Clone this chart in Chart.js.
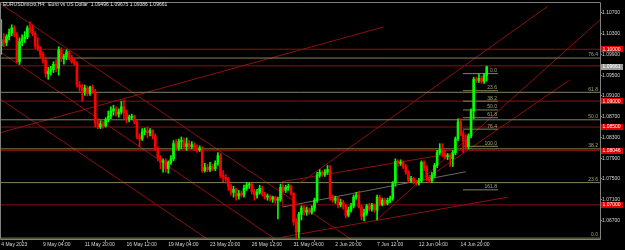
<!DOCTYPE html>
<html><head><meta charset="utf-8">
<script src="https://cdn.jsdelivr.net/npm/chart.js@4.4.1/dist/chart.umd.min.js"></script>
<style>html,body{margin:0;padding:0;background:#000;overflow:hidden}canvas{display:block}</style>
</head><body>
<canvas id="c" width="625" height="250"></canvas>
<script>
const title = 'EURUSDmicro,H4:  Euro vs US Dollar  1.09496 1.09675 1.09386 1.09661';
const tickBars = [0,16,32,48,64,80,96,112,128,144,160,176];
const timeLabels = ['4 May 2023','9 May 04:00','11 May 20:00','16 May 12:00','19 May 04:00','23 May 20:00','26 May 12:00','31 May 04:00','2 Jun 20:00','7 Jun 12:00','12 Jun 04:00','14 Jun 20:00'];
const priceTicks = [1.067,1.071,1.075,1.079,1.083,1.087,1.091,1.095,1.099,1.103,1.107];

const opens = [1.1007,1.1018,1.1013,1.1024,1.1032,1.1041,1.1028,1.0976,1.1015,1.1020,
1.1024,1.1041,1.1038,1.1030,1.1007,1.1001,1.0990,1.0978,1.0953,1.0957,
1.0961,1.0971,1.0963,1.0999,1.0982,1.0986,1.0995,1.0984,1.0976,1.0973,
1.0931,1.0927,1.0919,1.0925,1.0915,1.0927,1.0919,1.0858,1.0850,1.0856,
1.0852,1.0864,1.0871,1.0881,1.0885,1.0875,1.0879,1.0889,1.0877,1.0864,
1.0869,1.0871,1.0860,1.0831,1.0827,1.0841,1.0843,1.0839,1.0843,1.0833,
1.0808,1.0791,1.0782,1.0785,1.0770,1.0782,1.0789,1.0818,1.0810,1.0822,
1.0824,1.0812,1.0818,1.0812,1.0816,1.0808,1.0806,1.0810,1.0766,1.0772,
1.0768,1.0774,1.0770,1.0780,1.0795,1.0757,1.0753,1.0749,1.0736,1.0724,
1.0730,1.0717,1.0722,1.0719,1.0732,1.0738,1.0740,1.0726,1.0719,1.0724,
1.0732,1.0721,1.0715,1.0717,1.0711,1.0715,1.0709,1.0711,1.0734,1.0728,
1.0734,1.0736,1.0722,1.0667,1.0648,1.0682,1.0694,1.0686,1.0690,1.0686,
1.0694,1.0709,1.0757,1.0763,1.0759,1.0763,1.0768,1.0713,1.0709,1.0713,
1.0700,1.0705,1.0698,1.0680,1.0690,1.0698,1.0715,1.0719,1.0696,1.0678,
1.0684,1.0698,1.0692,1.0700,1.0690,1.0715,1.0701,1.0709,1.0703,1.0709,
1.0713,1.0742,1.0784,1.0780,1.0782,1.0774,1.0763,1.0747,1.0751,1.0745,
1.0742,1.0747,1.0782,1.0772,1.0753,1.0747,1.0757,1.0776,1.0801,1.0806,
1.0799,1.0793,1.0795,1.0789,1.0801,1.0827,1.0860,1.0837,1.0824,1.0812,
1.0833,1.0881,1.0942,1.0940,1.0944,1.0938,1.09496];
const highs = [1.1057,1.1030,1.1028,1.1039,1.1047,1.1045,1.1032,1.1022,1.1028,1.1034,
1.1045,1.1053,1.1047,1.1034,1.1022,1.1005,1.0995,1.0984,1.0965,1.0967,
1.0976,1.0980,1.1005,1.1003,1.0990,1.0999,1.0997,1.0988,1.0982,1.0976,
1.0938,1.0932,1.0931,1.0929,1.0929,1.0931,1.0923,1.0866,1.0862,1.0860,
1.0868,1.0881,1.0889,1.0892,1.0889,1.0885,1.0900,1.0902,1.0883,1.0873,
1.0875,1.0873,1.0864,1.0837,1.0847,1.0848,1.0850,1.0847,1.0845,1.0837,
1.0812,1.0795,1.0789,1.0789,1.0785,1.0795,1.0824,1.0826,1.0827,1.0831,
1.0829,1.0829,1.0824,1.0822,1.0820,1.0816,1.0814,1.0812,1.0780,1.0778,
1.0782,1.0778,1.0785,1.0801,1.0799,1.0766,1.0759,1.0753,1.0740,1.0736,
1.0732,1.0728,1.0726,1.0738,1.0743,1.0743,1.0742,1.0730,1.0730,1.0738,
1.0736,1.0724,1.0721,1.0719,1.0717,1.0717,1.0715,1.0740,1.0738,1.0738,
1.0740,1.0738,1.0724,1.0673,1.0686,1.0698,1.0698,1.0696,1.0694,1.0698,
1.0713,1.0763,1.0768,1.0766,1.0768,1.0776,1.0776,1.0719,1.0717,1.0715,
1.0711,1.0709,1.0701,1.0696,1.0703,1.0719,1.0724,1.0726,1.0700,1.0692,
1.0701,1.0703,1.0703,1.0701,1.0719,1.0719,1.0713,1.0713,1.0713,1.0717,
1.0745,1.0789,1.0787,1.0787,1.0785,1.0778,1.0766,1.0755,1.0753,1.0747,
1.0751,1.0785,1.0785,1.0776,1.0757,1.0763,1.0780,1.0805,1.0818,1.0818,
1.0805,1.0799,1.0797,1.0805,1.0831,1.0866,1.0866,1.0843,1.0835,1.0837,
1.0885,1.0946,1.0946,1.0952,1.0948,1.0953,1.09675];
const lows = [1.0990,1.1005,1.1007,1.1018,1.1026,1.1024,1.0973,1.0971,1.1007,1.1013,
1.1020,1.1032,1.1026,1.1001,1.0997,1.0984,1.0973,1.0946,1.0942,1.0950,
1.0955,1.0957,1.0950,1.0976,1.0971,1.0980,1.0980,1.0973,1.0969,1.0927,
1.0919,1.0900,1.0911,1.0910,1.0911,1.0915,1.0850,1.0847,1.0847,1.0848,
1.0850,1.0860,1.0866,1.0873,1.0871,1.0869,1.0875,1.0866,1.0858,1.0860,
1.0864,1.0856,1.0827,1.0812,1.0824,1.0835,1.0829,1.0833,1.0827,1.0805,
1.0785,1.0770,1.0763,1.0763,1.0761,1.0778,1.0785,1.0806,1.0805,1.0808,
1.0808,1.0805,1.0808,1.0808,1.0805,1.0801,1.0803,1.0763,1.0763,1.0764,
1.0764,1.0766,1.0766,1.0776,1.0753,1.0745,1.0742,1.0728,1.0719,1.0715,
1.0709,1.0711,1.0715,1.0715,1.0728,1.0732,1.0721,1.0709,1.0713,1.0721,
1.0717,1.0711,1.0709,1.0707,1.0705,1.0703,1.0673,1.0707,1.0724,1.0724,
1.0728,1.0719,1.0661,1.0636,1.0636,1.0671,1.0680,1.0680,1.0682,1.0682,
1.0688,1.0705,1.0753,1.0755,1.0755,1.0759,1.0709,1.0705,1.0703,1.0694,
1.0696,1.0692,1.0675,1.0677,1.0686,1.0694,1.0711,1.0694,1.0671,1.0669,
1.0680,1.0688,1.0688,1.0686,1.0671,1.0698,1.0698,1.0700,1.0700,1.0705,
1.0709,1.0736,1.0774,1.0776,1.0770,1.0759,1.0743,1.0743,1.0740,1.0738,
1.0738,1.0743,1.0766,1.0747,1.0743,1.0743,1.0753,1.0772,1.0797,1.0793,
1.0789,1.0787,1.0774,1.0774,1.0797,1.0824,1.0833,1.0801,1.0808,1.0808,
1.0829,1.0866,1.0936,1.0936,1.0934,1.0934,1.09386];
const closes = [1.1018,1.1013,1.1024,1.1032,1.1041,1.1028,1.0976,1.1015,1.1020,1.1024,
1.1041,1.1038,1.1030,1.1007,1.1001,1.0990,1.0978,1.0953,1.0957,1.0961,
1.0971,1.0963,1.0999,1.0982,1.0986,1.0995,1.0984,1.0976,1.0973,1.0931,
1.0927,1.0919,1.0925,1.0915,1.0927,1.0919,1.0858,1.0850,1.0856,1.0852,
1.0864,1.0871,1.0881,1.0885,1.0875,1.0879,1.0889,1.0877,1.0864,1.0869,
1.0871,1.0860,1.0831,1.0827,1.0841,1.0843,1.0839,1.0843,1.0833,1.0808,
1.0791,1.0782,1.0785,1.0770,1.0782,1.0789,1.0818,1.0810,1.0822,1.0824,
1.0812,1.0818,1.0812,1.0816,1.0808,1.0806,1.0810,1.0766,1.0772,1.0768,
1.0774,1.0770,1.0780,1.0795,1.0757,1.0753,1.0749,1.0736,1.0724,1.0730,
1.0717,1.0722,1.0719,1.0732,1.0738,1.0740,1.0726,1.0719,1.0724,1.0732,
1.0721,1.0715,1.0717,1.0711,1.0715,1.0709,1.0711,1.0734,1.0728,1.0734,
1.0736,1.0722,1.0667,1.0648,1.0682,1.0694,1.0686,1.0690,1.0686,1.0694,
1.0709,1.0757,1.0763,1.0759,1.0763,1.0768,1.0713,1.0709,1.0713,1.0700,
1.0705,1.0698,1.0680,1.0690,1.0698,1.0715,1.0719,1.0696,1.0678,1.0684,
1.0698,1.0692,1.0700,1.0690,1.0715,1.0701,1.0709,1.0703,1.0709,1.0713,
1.0742,1.0784,1.0780,1.0782,1.0774,1.0763,1.0747,1.0751,1.0745,1.0742,
1.0747,1.0782,1.0772,1.0753,1.0747,1.0757,1.0776,1.0801,1.0806,1.0799,
1.0793,1.0795,1.0789,1.0801,1.0827,1.0860,1.0837,1.0824,1.0812,1.0833,
1.0881,1.0942,1.0940,1.0944,1.0938,1.0950,1.09661];

// horizontal price levels (maroon) and the axis boxes
const redLevels = [1.1000, 1.0968, 1.0900, 1.0850, 1.08046, 1.0700];
const redBoxes = [1.1000, 1.0900, 1.0850, 1.08046, 1.0700];
const lastPrice = 1.09661;

// big Fibonacci retracement (full width)
const bigFibLabels = ['0.0','23.6','38.2','50.0','61.8','76.4'];
const bigFibPrices = [1.0636, 1.0743, 1.0808, 1.0864, 1.0917, 1.0983];
// small Fibonacci (right side)
const smallFibLabels = ['0.0','23.6','38.2','50.0','61.8','76.4','100.0','161.8'];
const smallFibPrices = [1.0953, 1.0920, 1.0900, 1.0883, 1.0868, 1.0846, 1.0813, 1.0729];
const smallFibSpan = [176.9, 190.3];

// trend lines as [bar index, price] anchors
const downTrend = [[[-0.4,1.1088],[134,1.0634]], [[-0.4,1.0995],[105,1.0634]], [[-0.4,1.0904],[79,1.0634]]];
const riseLong = [[[-0.4,1.0839],[146.5,1.1043]]];
const upTrend = [[[114.7,1.0743],[209.4,1.1083]], [[143.8,1.0671],[229.5,1.1057]], [[160.7,1.0743],[217.5,1.0940]]];
const channelRed = [[[107.8,1.0745],[174.9,1.0801]], [[107.8,1.0638],[194.1,1.0715]], [[107.8,1.0745],[107.8,1.0696]]];
const channelMid = [[[107.8,1.0696],[178.0,1.0764]]];

const X_MIN = -0.1, X_MAX = 229.4, Y_MIN = 1.06343, Y_MAX = 1.10891;
const UP = '#00ff00', DOWN = '#ff0000', MAROON = '#8e1010', OLIVE = '#85855c', FIBTXT = '#a6a672', GRID = '#808080', TXT = '#d8d8d8', MIDGREY = '#6a6a6a';
const FONT = '"Liberation Sans", Arial, sans-serif';

function seg(a, b, color) {
  return {type:'line', data:[{x:a[0],y:a[1]},{x:b[0],y:b[1]}], borderColor:color, borderWidth:1,
    pointRadius:0, pointHoverRadius:0, fill:false, tension:0, order:2};
}
const datasets = [];
bigFibPrices.forEach(p => datasets.push(seg([X_MIN-2,p],[X_MAX+2,p], OLIVE)));
smallFibPrices.forEach(p => datasets.push(seg([smallFibSpan[0],p],[smallFibSpan[1],p], OLIVE)));
redLevels.forEach(p => datasets.push(seg([X_MIN-2,p],[X_MAX+2,p], MAROON)));
[...downTrend, ...riseLong, ...upTrend, ...channelRed].forEach(l => datasets.push(seg(l[0], l[1], MAROON)));
channelMid.forEach(l => datasets.push(seg(l[0], l[1], MIDGREY)));

const col = ctx => (closes[ctx.dataIndex] >= opens[ctx.dataIndex] ? UP : DOWN);
datasets.push({type:'bar', data: lows.map((l,i)=>({x:i, y:[l, highs[i]]})), backgroundColor: col,
  barThickness:1, grouped:false, borderWidth:0, order:0});
datasets.push({type:'bar', data: opens.map((o,i)=>({x:i, y:[o, closes[i]]})), backgroundColor: col,
  barThickness:2, grouped:false, borderWidth:0, minBarLength:1, order:0});

const decor = {
  id:'decor',
  beforeDraw(chart){ const c=chart.ctx; c.save(); c.fillStyle='#000'; c.fillRect(0,0,chart.width,chart.height); c.restore(); },
  afterDraw(chart){
    const c = chart.ctx, a = chart.chartArea, ys = chart.scales.y, xs = chart.scales.x;
    c.save();
    c.strokeStyle = GRID; c.lineWidth = 1;
    c.beginPath();
    c.moveTo(a.left-0.5, a.top-0.5); c.lineTo(a.right+0.5, a.top-0.5);
    c.moveTo(a.left-0.5, a.top-0.5); c.lineTo(a.left-0.5, a.bottom+0.5);
    c.moveTo(a.right+0.5, a.top-0.5); c.lineTo(a.right+0.5, a.bottom+0.5);
    c.moveTo(a.left-0.5, a.bottom+0.5); c.lineTo(a.right+0.5, a.bottom+0.5);
    c.stroke();
    c.font = '5px ' + FONT;
    // fib labels
    c.fillStyle = FIBTXT; c.textAlign = 'right'; c.textBaseline = 'bottom';
    bigFibPrices.forEach((p,k) => c.fillText(bigFibLabels[k], a.right-2, ys.getPixelForValue(p)-0.5));
    const sr = xs.getPixelForValue(smallFibSpan[1]) - 1;
    smallFibPrices.forEach((p,k) => c.fillText(smallFibLabels[k], sr, ys.getPixelForValue(p)-0.5));
    // price boxes
    c.textAlign = 'left'; c.textBaseline = 'middle';
    redBoxes.forEach(p => {
      const yy = ys.getPixelForValue(p);
      c.fillStyle = '#e00000'; c.fillRect(a.right+1, Math.round(yy)-3, 22, 6);
      c.fillStyle = '#ffffff'; c.fillText(p.toFixed(5), a.right+2.5, yy);
    });
    const ly = ys.getPixelForValue(lastPrice);
    c.fillStyle = '#9a9a9a'; c.fillRect(a.right+1, Math.round(ly)-3, 22, 6);
    c.fillStyle = '#ffffff'; c.fillText(lastPrice.toFixed(5), a.right+2.5, ly);
    // header
    c.fillStyle = '#e6e6e6'; c.textAlign = 'left'; c.textBaseline = 'middle';
    c.fillText(title, a.left+2, 5);
    c.restore();
  }
};

new Chart(document.getElementById('c'), {
  type: 'bar',
  data: { datasets },
  options: {
    responsive:false, animation:false, devicePixelRatio:1, events:[],
    layout:{padding:{left:1, top:1, right:0, bottom:0}},
    plugins:{legend:{display:false}, tooltip:{enabled:false}, title:{display:false}},
    scales:{
      x:{type:'linear', min:X_MIN, max:X_MAX, offset:false,
        afterBuildTicks: ax => { ax.ticks = tickBars.map(v => ({value:v})); },
        afterFit: ax => { ax.height = 11; },
        ticks:{autoSkip:false, maxRotation:0, align:'start', padding:0, color:TXT,
          font:{size:5, family:FONT}, callback:(v,i) => timeLabels[i]},
        grid:{drawOnChartArea:false, drawTicks:true, tickLength:3, color:GRID},
        border:{display:false}},
      y:{type:'linear', position:'right', min:Y_MIN, max:Y_MAX,
        afterBuildTicks: ax => { ax.ticks = priceTicks.map(v => ({value:v})); },
        afterFit: ax => { ax.width = 25; },
        ticks:{autoSkip:false, padding:0, color:TXT, font:{size:5, family:FONT},
          callback: v => Number(v).toFixed(5)},
        grid:{drawOnChartArea:false, drawTicks:true, tickLength:2, color:GRID},
        border:{display:false}}
    }
  },
  plugins:[decor]
});
</script>
</body></html>
